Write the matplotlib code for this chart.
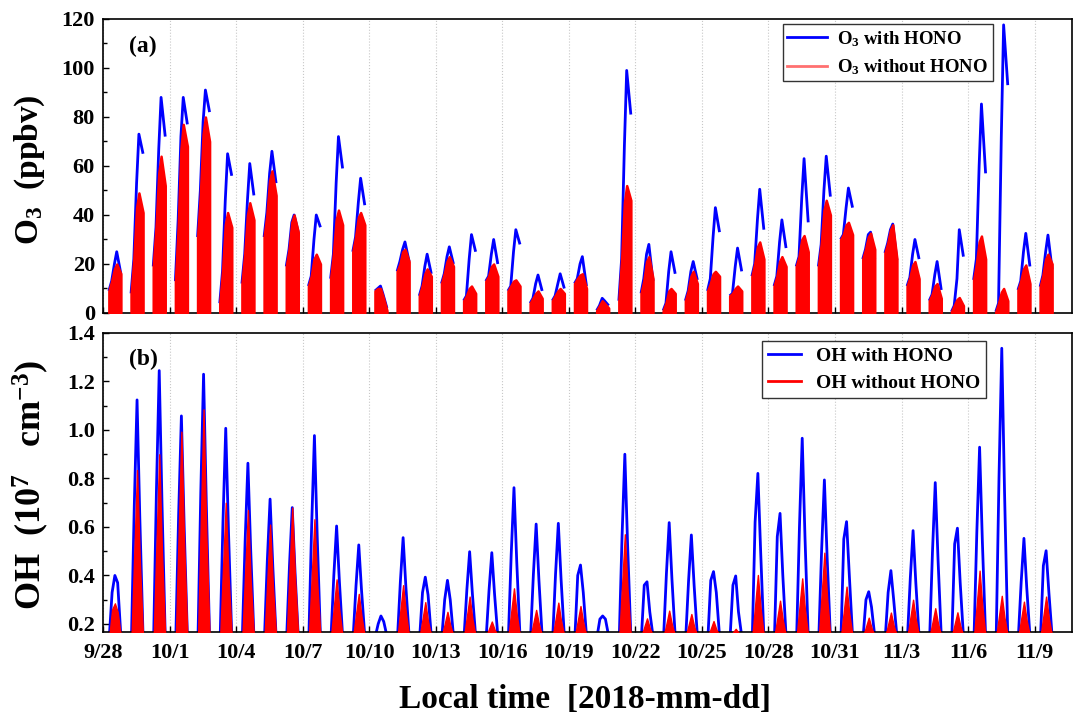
import numpy as np
import matplotlib
matplotlib.use('Agg')
import matplotlib.pyplot as plt
from matplotlib.lines import Line2D
from matplotlib.ticker import MultipleLocator, FormatStrFormatter

# Шрифти: жирний Times-подібний
plt.rcParams['font.family'] = ['Liberation Serif', 'DejaVu Serif']
plt.rcParams['font.weight'] = 'bold'
plt.rcParams['mathtext.fontset'] = 'custom'
plt.rcParams['mathtext.rm'] = 'Liberation Serif:bold'
plt.rcParams['mathtext.it'] = 'Liberation Serif:bold:italic'
plt.rcParams['mathtext.bf'] = 'Liberation Serif:bold'

# Дні від 9/28 (день 0) до 11/9 (день 42)
TICK_DAYS = list(range(0, 43, 3))
TICK_LABELS = ['9/28', '10/1', '10/4', '10/7', '10/10', '10/13', '10/16', '10/19',
               '10/22', '10/25', '10/28', '10/31', '11/3', '11/6', '11/9']

# O3 (ppbv): значення о годинах O3_HOURS для кожного дня
O3_HOURS = [6, 9, 12, 14.5, 19]
O3_WITH = [
    (9, 13, 20, 25, 16), (8, 22, 53, 73, 65), (19, 35, 67, 88, 72), (13, 38, 72, 88, 77),
    (31, 50, 78, 91, 82), (4, 17, 46, 65, 56), (12, 24, 46, 61, 48), (31, 41, 57, 66, 53),
    (19, 26, 37, 40, 33), (11, 15, 30, 40, 35), (14, 24, 53, 72, 59), (25, 31, 45, 55, 44),
    (9, 10, 11, 8, 2), (17, 21, 26, 29, 21), (7, 11, 19, 24, 16), (12, 16, 23, 27, 20),
    (5, 7, 22, 32, 25), (13, 15, 24, 30, 20), (9, 11, 25, 34, 28), (4, 6, 12, 15.5, 9),
    (5, 7, 12, 16, 10), (12, 14, 20, 23, 11), (1, 3, 6, 5, 3), (5, 22, 68, 99, 81),
    (8, 14, 24, 28, 13), (1, 4, 17, 25, 16), (5, 9, 17, 21, 13.5), (9, 14, 31, 43, 33),
    (7, 8, 19, 26.5, 17), (15, 20, 38, 50.5, 34), (11, 15, 29, 38, 26.5), (19, 23, 47, 63, 37),
    (19, 28, 50, 64, 47.5), (30, 32, 43, 51, 43), (22, 26, 32, 33, 22), (24.5, 28.5, 34, 36.3, 21.6),
    (11, 14.5, 24, 30, 22), (5, 7.5, 15.6, 21, 9.4), (0.5, 3, 14, 34, 23), (13.5, 22, 60, 85.3, 57),
    (0.5, 4, 72, 117.6, 93), (9.4, 13, 25, 32.5, 19), (10.7, 15.4, 25, 31.8, 17.8),
]
O3_WITHOUT = [
    (9, 13, 18, 20, 16), (8, 22, 43, 49, 41), (19, 35, 57, 64, 52), (13, 35, 67, 77, 68),
    (31, 48, 73, 80, 70), (4, 17, 36, 41, 35), (12, 24, 40, 45, 38), (31, 40, 54, 58, 48),
    (19, 26, 37, 40, 33), (11, 15, 22, 24, 20), (14, 24, 38, 42, 36), (25, 31, 39, 41, 36),
    (9, 10, 10, 7, 1), (17, 20, 25, 26, 21), (7, 11, 16, 18, 15), (12, 16, 21, 23, 19),
    (5, 7, 10, 11, 8), (13, 15, 19, 20, 15), (9, 11, 13, 13.5, 11), (4, 6, 8, 9, 6),
    (5, 7, 9, 10, 8), (12, 14, 15.5, 16, 10), (1, 3, 5, 4, 2), (5, 22, 45, 52, 46),
    (8, 13, 21, 23, 14), (1, 4, 9, 10, 8), (5, 9, 15, 17, 12), (9, 12, 16, 17, 15),
    (7, 8, 10, 11, 9), (15, 20, 27, 29, 22), (11, 15, 21, 23, 19), (19, 23, 30, 31.6, 25),
    (19, 28, 42, 46, 40), (30, 32, 36, 37, 32), (22, 26, 31, 32.6, 26), (24.5, 28.5, 34, 36, 22),
    (11, 14.5, 19.5, 21, 14), (5, 7.5, 11, 12, 6), (0.5, 3, 5.5, 6.3, 3), (13.5, 20, 29, 31.4, 22),
    (0.5, 4, 8.5, 10, 5), (9.4, 13, 18, 19.6, 12), (10.7, 15.4, 22, 24, 20),
]

# OH (10^7 cm^-3): вночі OH_NIGHT, вдень (ранок, пік, після полудня)
OH_HOURS = [6.5, 9.5, 12.5, 15.5, 19]
OH_NIGHT = 0.15
OH_WITH = [
    (0.33, 0.40, 0.37), (0.686, 1.124, 0.637), (0.752, 1.245, 0.698), (0.649, 1.058, 0.604),
    (0.744, 1.23, 0.69), (0.621, 1.007, 0.579), (0.542, 0.863, 0.507), (0.461, 0.715, 0.433),
    (0.442, 0.68, 0.415), (0.605, 0.977, 0.564), (0.40, 0.604, 0.377), (0.357, 0.526, 0.338),
    (0.20, 0.233, 0.21), (0.373, 0.556, 0.353), (0.33, 0.393, 0.32), (0.30, 0.38, 0.30),
    (0.341, 0.498, 0.324), (0.339, 0.494, 0.322), (0.487, 0.762, 0.456), (0.404, 0.612, 0.381),
    (0.406, 0.615, 0.383), (0.40, 0.443, 0.33), (0.22, 0.233, 0.22), (0.563, 0.90, 0.525),
    (0.36, 0.374, 0.25), (0.407, 0.618, 0.384), (0.379, 0.567, 0.359), (0.38, 0.416, 0.33),
    (0.36, 0.398, 0.25), (0.62, 0.821, 0.50), (0.56, 0.656, 0.40), (0.599, 0.966, 0.558),
    (0.504, 0.794, 0.472), (0.55, 0.622, 0.40), (0.30, 0.333, 0.27), (0.33, 0.42, 0.30),
    (0.389, 0.585, 0.368), (0.498, 0.783, 0.467), (0.53, 0.595, 0.37), (0.578, 0.929, 0.54),
    (0.803, 1.337, 0.744), (0.372, 0.553, 0.352), (0.44, 0.502, 0.33),
]
OH_WITHOUT = [
    (0.26, 0.285, 0.25), (0.49, 0.835, 0.46), (0.525, 0.90, 0.49), (0.57, 0.993, 0.53),
    (0.62, 1.085, 0.57), (0.425, 0.70, 0.40), (0.41, 0.67, 0.38), (0.38, 0.61, 0.36),
    (0.415, 0.68, 0.39), (0.39, 0.632, 0.37), (0.27, 0.384, 0.255), (0.24, 0.324, 0.23),
    (0.15, 0.15, 0.15), (0.255, 0.36, 0.245), (0.22, 0.29, 0.21), (0.20, 0.25, 0.195),
    (0.23, 0.313, 0.22), (0.18, 0.21, 0.177), (0.25, 0.347, 0.24), (0.204, 0.258, 0.199),
    (0.219, 0.288, 0.212), (0.212, 0.274, 0.206), (0.15, 0.15, 0.15), (0.36, 0.57, 0.34),
    (0.187, 0.223, 0.183), (0.20, 0.255, 0.197), (0.195, 0.241, 0.19), (0.18, 0.212, 0.178),
    (0.165, 0.18, 0.164), (0.276, 0.402, 0.263), (0.223, 0.296, 0.216), (0.27, 0.388, 0.257),
    (0.32, 0.494, 0.305), (0.252, 0.354, 0.242), (0.188, 0.226, 0.184), (0.198, 0.247, 0.194),
    (0.225, 0.30, 0.218), (0.207, 0.265, 0.202), (0.199, 0.248, 0.194), (0.285, 0.42, 0.27),
    (0.233, 0.316, 0.225), (0.221, 0.292, 0.214), (0.232, 0.313, 0.223),
]


# Малювання однієї панелі: синя лінія + червона заливка по днях
def draw_days(ax, hours, with_vals, without_vals, edge_lw):
    for d, (w, wo) in enumerate(zip(with_vals, without_vals)):
        x = d + np.array(hours) / 24.0
        ax.plot(x, w, color='blue', lw=2.0, zorder=2, solid_capstyle='butt')
        ax.fill_between(x, 0, wo, color='red', lw=edge_lw, edgecolor='red', zorder=3)


def style_axis(ax):
    ax.set_xlim(0, 43.69)
    ax.set_xticks(TICK_DAYS)
    ax.grid(axis='x', color='#c8c8c8', linestyle=':', linewidth=0.8, zorder=0)
    ax.tick_params(which='both', direction='in', labelsize=16, pad=6, width=1.0)
    ax.tick_params(which='major', length=4)
    ax.tick_params(which='minor', length=3)
    ax.tick_params(axis='x', which='both', top=False)
    for s in ax.spines.values():
        s.set_linewidth(1.2)


fig = plt.figure(figsize=(10.73, 7.22), dpi=100)
ax1 = fig.add_axes([0.0963, 0.5665, 0.9028, 0.4072])
ax2 = fig.add_axes([0.0963, 0.1247, 0.9028, 0.4141])

# (a) O3
draw_days(ax1, O3_HOURS, O3_WITH, O3_WITHOUT, 1.8)
style_axis(ax1)
ax1.set_ylim(0, 120)
ax1.yaxis.set_major_locator(MultipleLocator(20))
ax1.yaxis.set_minor_locator(MultipleLocator(10))
ax1.set_xticklabels([])
ax1.text(0.026, 0.905, '(a)', transform=ax1.transAxes, fontsize=17, va='center')
h1 = [Line2D([], [], color='blue', lw=2), Line2D([], [], color='#ff7070', lw=2)]
leg1 = ax1.legend(h1, ['O$_3$ with HONO', 'O$_3$ without HONO'], loc='upper right',
                  bbox_to_anchor=(0.918, 0.982), borderaxespad=0, fontsize=13.5,
                  handlelength=2.1, handletextpad=0.55, fancybox=False, framealpha=1,
                  edgecolor='#333333', borderpad=0.25, labelspacing=0.45)
leg1.get_frame().set_linewidth(1.0)

# (b) OH
oh_with = [(OH_NIGHT, *v, OH_NIGHT) for v in OH_WITH]
oh_without = [(OH_NIGHT, *v, OH_NIGHT) for v in OH_WITHOUT]
draw_days(ax2, OH_HOURS, oh_with, oh_without, 1.0)
style_axis(ax2)
ax2.set_ylim(0.167, 1.4)
ax2.yaxis.set_major_locator(MultipleLocator(0.2))
ax2.yaxis.set_minor_locator(MultipleLocator(0.1))
ax2.yaxis.set_major_formatter(FormatStrFormatter('%.1f'))
ax2.set_xticklabels(TICK_LABELS)
ax2.tick_params(axis='x', pad=8)
ax2.text(0.026, 0.91, '(b)', transform=ax2.transAxes, fontsize=17, va='center')
h2 = [Line2D([], [], color='blue', lw=2), Line2D([], [], color='red', lw=2)]
leg2 = ax2.legend(h2, ['OH with HONO', 'OH without HONO'], loc='upper right',
                  bbox_to_anchor=(0.911, 0.973), borderaxespad=0, fontsize=14,
                  handlelength=1.7, handletextpad=0.75, fancybox=False, framealpha=1,
                  edgecolor='#333333', borderpad=0.3, labelspacing=0.5)
leg2.get_frame().set_linewidth(1.0)

# Підписи осей
fig.text(30 / 1073, 1 - 170 / 722, 'O$_3$  (ppbv)', rotation=90, fontsize=24,
         ha='center', va='center')
fig.text(31 / 1073, 1 - 485 / 722, 'OH  (10$^7$   cm$^{-3}$)', rotation=90, fontsize=26,
         ha='center', va='center')
fig.text(585 / 1073, 1 - 700 / 722, 'Local time  [2018-mm-dd]', fontsize=24,
         ha='center', va='center')

fig.savefig('out.png', dpi=100)
